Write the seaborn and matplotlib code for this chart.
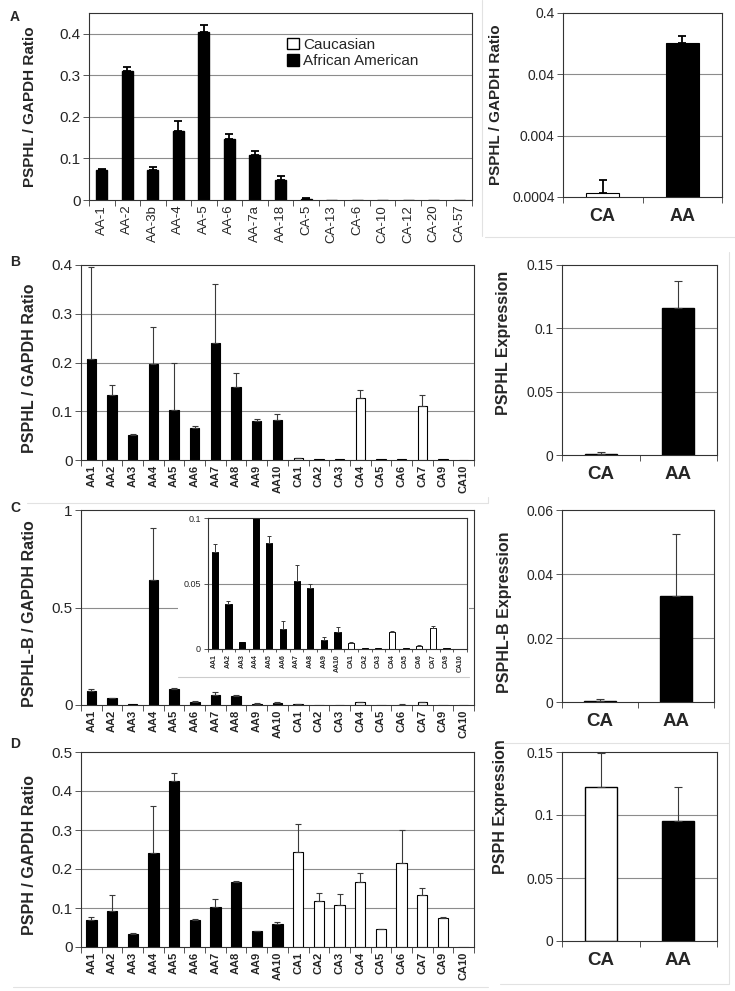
import numpy as np
import pandas as pd
import matplotlib
matplotlib.use("Agg")
import matplotlib.pyplot as plt
import seaborn as sns
from matplotlib.patches import Patch, Rectangle
from matplotlib.lines import Line2D
from matplotlib.ticker import NullLocator, FixedLocator

# ---- data ----
a_samples = ["AA-1", "AA-2", "AA-3b", "AA-4", "AA-5", "AA-6", "AA-7a", "AA-18",
             "CA-5", "CA-13", "CA-6", "CA-10", "CA-12", "CA-20", "CA-57"]
a_values = [0.072, 0.310, 0.073, 0.166, 0.405, 0.147, 0.108, 0.048,
            0.003, 0.001, 0.001, 0.001, 0.001, 0.001, 0.001]
a_err = [0.003, 0.010, 0.007, 0.025, 0.015, 0.012, 0.010, 0.010,
         0.001, 0, 0, 0, 0, 0, 0]

samples = ["AA1", "AA2", "AA3", "AA4", "AA5", "AA6", "AA7", "AA8", "AA9", "AA10",
           "CA1", "CA2", "CA3", "CA4", "CA5", "CA6", "CA7", "CA9", "CA10"]

b_values = [0.207, 0.134, 0.052, 0.196, 0.103, 0.066, 0.241, 0.150, 0.081, 0.083,
            0.004, 0.002, 0.002, 0.127, 0.002, 0.002, 0.111, 0.002, 0]
b_err = [0.188, 0.020, 0.001, 0.077, 0.097, 0.003, 0.121, 0.028, 0.003, 0.011,
         0.001, 0, 0, 0.017, 0, 0, 0.023, 0, 0]

c_values = [0.074, 0.0345, 0.005, 0.643, 0.081, 0.015, 0.052, 0.0467, 0.007, 0.0127,
            0.0043, 0.0005, 0.0005, 0.013, 0.0005, 0.0023, 0.0157, 0.0005, 0]
c_err = [0.006, 0.0025, 0, 0.263, 0.005, 0.006, 0.0125, 0.003, 0.002, 0.004,
         0.0007, 0, 0, 0.0005, 0, 0.0005, 0.002, 0, 0]

d_values = [0.070, 0.093, 0.033, 0.242, 0.426, 0.070, 0.103, 0.167, 0.040, 0.060,
            0.243, 0.119, 0.108, 0.167, 0.046, 0.215, 0.133, 0.075, 0]
d_err = [0.007, 0.040, 0.002, 0.120, 0.021, 0.001, 0.020, 0.003, 0.001, 0.003,
         0.073, 0.019, 0.028, 0.022, 0.001, 0.084, 0.019, 0.001, 0]

groups = ["CA", "AA"]
a_group_values = [0.00046, 0.131]
a_group_err = [0.0003, 0.040]
b_group_values = [0.0006, 0.116]
b_group_err = [0.0015, 0.021]
c_group_values = [0.0004, 0.0332]
c_group_err = [0.0006, 0.0193]
d_group_values = [0.122, 0.095]
d_group_err = [0.027, 0.027]

# ---- style ----
sns.set_theme(style="white")
plt.rcParams["font.family"] = ["Liberation Sans", "DejaVu Sans"]

W, H = 735, 991
fig = plt.figure(figsize=(W / 100, H / 100), dpi=100)
pal = {"AA": "black", "CA": "white"}


def box(l, t, r, b):
    return [l / W, 1 - b / H, (r - l) / W, (b - t) / H]


def bars(ax, names, values, err, width, ecol, elw, cap, lw=0.8):
    df = pd.DataFrame({"sample": names, "value": values,
                       "group": [n[:2] for n in names]})
    sns.barplot(data=df, x="sample", y="value", hue="group", palette=pal,
                dodge=False, width=width, edgecolor="black", linewidth=lw,
                legend=False, ax=ax)
    x = np.arange(len(names))
    e = np.array(err, dtype=float)
    m = e > 0
    ax.errorbar(x[m], np.array(values)[m], yerr=[np.zeros(m.sum()), e[m]],
                fmt="none", ecolor=ecol, elinewidth=elw, capsize=cap,
                capthick=elw, zorder=5)
    ax.set_xlim(-0.5, len(names) - 0.5)
    ax.set_xlabel("")


def frame(ax, n, grid_ticks):
    for s in ax.spines.values():
        s.set_color("#333333")
        s.set_linewidth(0.8)
    ax.xaxis.set_minor_locator(FixedLocator(np.arange(n + 1) - 0.5))
    ax.tick_params(axis="x", which="major", length=0)
    ax.tick_params(axis="x", which="minor", length=4, width=0.7,
                   color="#555555", direction="out", bottom=True)
    ax.tick_params(axis="y", which="major", length=4, width=0.7,
                   color="#555555", direction="out", left=True, pad=2)
    for g in grid_ticks:
        ax.axhline(g, color="#8c8c8c", lw=0.8, zorder=0.5)


# ---- panel A ----
ax = fig.add_axes(box(89, 13, 472, 200))
bars(ax, a_samples, a_values, a_err, 0.43, "black", 1.3, 3, lw=1.0)
ax.set_ylim(0, 0.45)
ax.set_yticks([0, 0.1, 0.2, 0.3, 0.4], ["0", "0.1", "0.2", "0.3", "0.4"], fontsize=11)
ax.set_xticks(range(len(a_samples)), a_samples, rotation=90, fontsize=9.5)
frame(ax, len(a_samples), [0.1, 0.2, 0.3, 0.4])
ax.set_ylabel("PSPHL / GAPDH Ratio", fontsize=11, fontweight="bold")
ax.yaxis.set_label_coords(-0.135, 0.5)
ax.legend(handles=[Patch(facecolor="white", edgecolor="black", label="Caucasian"),
                   Patch(facecolor="black", edgecolor="black", label="African American")],
          loc="upper left", bbox_to_anchor=(0.5, 0.9), frameon=False, fontsize=11,
          handlelength=0.8, handleheight=0.8, handletextpad=0.3, labelspacing=0.15,
          borderaxespad=0)

ax = fig.add_axes(box(563, 13, 722, 197))
ax.set_yscale("log")
bars(ax, groups, a_group_values, a_group_err, 0.42, "black", 1.3, 3)
ax.set_ylim(0.0004, 0.4)
ax.yaxis.set_major_locator(FixedLocator([0.0004, 0.004, 0.04, 0.4]))
ax.yaxis.set_minor_locator(NullLocator())
ax.set_yticklabels(["0.0004", "0.004", "0.04", "0.4"], fontsize=10)
ax.set_xticks([0, 1], groups, fontsize=13, fontweight="bold")
frame(ax, 2, [0.004, 0.04])
ax.tick_params(axis="x", pad=8)
ax.set_ylabel("PSPHL / GAPDH Ratio", fontsize=11, fontweight="bold")
ax.yaxis.set_label_coords(-0.38, 0.5)

# ---- panels B-D (left) ----
def left_panel(t, b, values, err, ymax, yticks, ylabels, grid, label, width=0.46):
    ax = fig.add_axes(box(81, t, 474, b))
    bars(ax, samples, values, err, width, "#3a3a3a", 0.8, 2.5)
    ax.set_ylim(0, ymax)
    ax.set_yticks(yticks, ylabels, fontsize=11)
    ax.set_xticks(range(len(samples)), samples, rotation=90, fontsize=8,
                  fontweight="bold")
    frame(ax, len(samples), grid)
    ax.set_ylabel(label, fontsize=11.5, fontweight="bold")
    ax.yaxis.set_label_coords(-0.112, 0.47)
    return ax


left_panel(265, 460, b_values, b_err, 0.4, [0, 0.1, 0.2, 0.3, 0.4],
           ["0", "0.1", "0.2", "0.3", "0.4"], [0.1, 0.2, 0.3], "PSPHL / GAPDH Ratio",
           width=0.45)
axc = left_panel(510, 705, c_values, c_err, 1.0, [0, 0.5, 1], ["0", "0.5", "1"],
                 [0.5], "PSPHL-B / GAPDH Ratio")
left_panel(752, 947, d_values, d_err, 0.5, [0, 0.1, 0.2, 0.3, 0.4, 0.5],
           ["0", "0.1", "0.2", "0.3", "0.4", "0.5"], [0.1, 0.2, 0.3, 0.4],
           "PSPH / GAPDH Ratio", width=0.5)

# inset of panel C
fig.add_artist(Rectangle((178 / W, 1 - 677 / H), (469 - 178) / W, (677 - 512) / H,
                         transform=fig.transFigure, facecolor="white",
                         edgecolor="none", zorder=1))
fig.add_artist(Line2D([178 / W, 469 / W], [1 - 677 / H, 1 - 677 / H],
                      transform=fig.transFigure, color="#cccccc", lw=0.8, zorder=1))
axi = fig.add_axes(box(208, 518, 467, 649))
axi.set_zorder(3)
bars(axi, samples, c_values, c_err, 0.45, "#3a3a3a", 0.7, 1.5, lw=0.7)
axi.set_ylim(0, 0.1)
axi.set_yticks([0, 0.05, 0.1], ["0", "0.05", "0.1"], fontsize=6.5)
axi.set_xticks(range(len(samples)), samples, rotation=90, fontsize=5,
               fontweight="bold")
frame(axi, len(samples), [0.05])
axi.tick_params(axis="x", which="minor", length=2.5)
axi.tick_params(axis="y", length=3)
axi.set_ylabel("")

# ---- panels B-D (right) ----
def right_panel(t, b, r, values, err, ymax, yticks, ylabels, grid, label, lx, ly):
    ax = fig.add_axes(box(562, t, r, b))
    bars(ax, groups, values, err, 0.41, "#3a3a3a", 0.8, 3, lw=1.0)
    ax.set_ylim(0, ymax)
    ax.set_yticks(yticks, ylabels, fontsize=10)
    ax.set_xticks([0, 1], groups, fontsize=13.5, fontweight="bold")
    frame(ax, 2, grid)
    ax.tick_params(axis="x", pad=8)
    ax.set_ylabel(label, fontsize=11.5, fontweight="bold")
    ax.yaxis.set_label_coords(lx, ly)


right_panel(265, 455, 717, b_group_values, b_group_err, 0.15, [0, 0.05, 0.1, 0.15],
            ["0", "0.05", "0.1", "0.15"], [0.05, 0.1], "PSPHL Expression", -0.33, 0.59)
right_panel(510, 702, 714, c_group_values, c_group_err, 0.06, [0, 0.02, 0.04, 0.06],
            ["0", "0.02", "0.04", "0.06"], [0.02, 0.04], "PSPHL-B Expression", -0.33, 0.47)
right_panel(752, 941, 717, d_group_values, d_group_err, 0.15, [0, 0.05, 0.1, 0.15],
            ["0", "0.05", "0.1", "0.15"], [0.05, 0.1], "PSPH Expression", -0.35, 0.71)

# panel letters
for letter, y in [("A", 17), ("B", 262), ("C", 508), ("D", 744)]:
    fig.text(10 / W, 1 - y / H, letter, fontsize=10, fontweight="bold",
             va="center", ha="left")

# faint panel frames
def fline(x0, y0, x1, y1):
    fig.add_artist(Line2D([x0 / W, x1 / W], [1 - y0 / H, 1 - y1 / H],
                          transform=fig.transFigure, color="#e2e2e2", lw=0.8))


fline(482, 0, 482, 236)
fline(485, 237, 735, 237)
fline(729, 252, 729, 984)
fline(27, 503, 488, 503)
fline(488, 497, 488, 503)
fline(500, 743, 729, 743)
fline(13, 987, 488, 987)
fline(500, 984, 729, 984)

fig.savefig("out.png", dpi=100)
